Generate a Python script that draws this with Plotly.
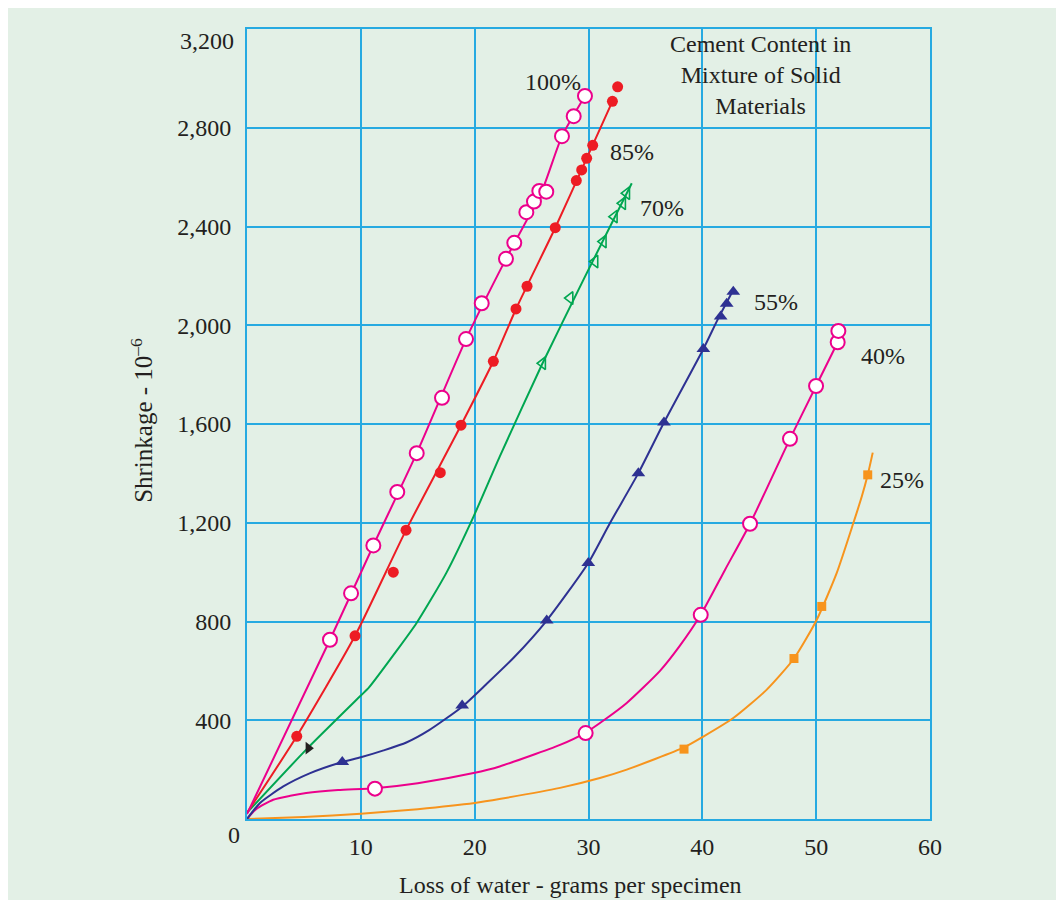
import plotly.graph_objects as go

# ---------------- data ----------------
# 100 % cement
c100_line_x = [0, 7.29, 11.1, 14.91, 19.24, 22.75, 25.9, 27.67, 29.69]
c100_line_y = [20, 726, 1108, 1482, 1944, 2269, 2543, 2766, 2929]
c100_pts_x = [7.29, 9.14, 11.10, 13.20, 14.91, 17.13, 19.24, 20.62, 22.75, 23.48, 24.54, 25.21, 25.68, 26.29, 27.67, 28.70, 29.69]
c100_pts_y = [726, 914, 1108, 1325, 1482, 1706, 1944, 2089, 2269, 2334, 2458, 2501, 2544, 2541, 2766, 2847, 2929]

# 85 % cement
c85_line_x = [0, 4.37, 9.49, 13.97, 18.8, 21.64, 23.63, 27.08, 29.84, 32.1]
c85_line_y = [25, 335, 742, 1170, 1595, 1854, 2066, 2395, 2676, 2907]
c85_pts_x = [4.37, 9.49, 12.85, 13.97, 16.98, 18.8, 21.64, 23.63, 24.6, 27.08, 28.93, 29.40, 29.84, 30.37, 32.1, 32.56]
c85_pts_y = [335, 742, 1000, 1170, 1403, 1595, 1854, 2066, 2158, 2395, 2586, 2629, 2676, 2729, 2907, 2966]

# 70 % cement
c70_line_x = [0, 5.2, 10, 10.7, 13.2, 14.9, 17.5, 19.9, 22.2, 25.9, 29.55, 33.8]
c70_line_y = [25, 281, 500, 532, 685, 794, 996, 1225, 1468, 1840, 2184, 2575]
c70_pts_x = [25.97, 28.38, 30.57, 31.3, 32.27, 33.0, 33.36]
c70_pts_y = [1846, 2110, 2258, 2339, 2440, 2494, 2535]
c70_black_x = [5.39]
c70_black_y = [287]

# 55 % cement
c55_line_x = [0, 1.14, 3.19, 5.5, 8.37, 10, 12, 14, 16, 18.9, 21, 23.4, 26.33, 29.98, 31.89, 34.38, 36.63, 40.09, 41.41, 42.72]
c55_line_y = [0, 65, 132, 185, 231, 250, 278, 310, 360, 455, 545, 652, 804, 1037, 1199, 1401, 1606, 1904, 2029, 2143]
c55_pts_x = [8.37, 18.9, 26.33, 29.98, 34.38, 36.63, 40.09, 41.61, 42.14, 42.72]
c55_pts_y = [231, 460, 804, 1037, 1401, 1606, 1904, 2035, 2087, 2136]

# 40 % cement
c40_line_x = [0, 0.8, 2.3, 3.8, 5.2, 8, 11.24, 15, 19.9, 22.2, 27.5, 29.75, 31.5, 33.36, 36.28, 38, 39.86, 42, 44.19, 47.7, 49.99, 51.89]
c40_line_y = [0, 40, 78, 94, 105, 117, 125, 145, 186, 213, 300, 350, 405, 470, 600, 700, 827, 1010, 1196, 1540, 1754, 1931]
c40_pts_x = [11.24, 29.75, 39.86, 44.19, 47.7, 49.99, 51.89, 51.95]
c40_pts_y = [123, 348, 827, 1196, 1540, 1754, 1931, 1977]

# 25 % cement
c25_line_x = [0, 5, 10, 15, 20, 22.3, 27.5, 31, 33.36, 38.39, 40.09, 42.72, 45.66, 48.05, 50.05, 51.8, 53.26, 54.0, 54.53, 54.97]
c25_line_y = [0, 8, 21, 40, 65, 82, 126, 166, 200, 290, 334, 409, 524, 650, 807, 996, 1198, 1305, 1394, 1484]
c25_pts_x = [38.39, 48.05, 50.49, 54.53]
c25_pts_y = [283, 650, 861, 1394]

series_labels = ["100%", "85%", "70%", "55%", "40%", "25%"]
label_x = [26.88, 33.82, 36.46, 46.47, 55.87, 57.54]
label_y = [2986, 2702, 2475, 2095, 1876, 1374]

x_ticks = [10, 20, 30, 40, 50, 60]
y_ticks = [400, 800, 1200, 1600, 2000, 2400, 2800, 3200]
y_tick_text = ["400", "800", "1,200", "1,600", "2,000", "2,400", "2,800", ""]

# ---------------- styles ----------------
MAG = "#ec008c"
RED = "#ed1c24"
GRN = "#00a651"
BLU = "#2e3192"
ORG = "#f7941d"
GRID = "#27aae1"
BG = "#e3f0e6"
TXT = "#231f20"
FONT = "Liberation Serif, Times New Roman, serif"

fig = go.Figure()

def line(x, y, c):
    fig.add_trace(go.Scatter(x=x, y=y, mode="lines", line=dict(color=c, width=2, shape="spline", smoothing=0.6),
                             hoverinfo="skip", showlegend=False))

def pts(x, y, c, symbol, size, fill, lw):
    fig.add_trace(go.Scatter(x=x, y=y, mode="markers",
                             marker=dict(symbol=symbol, size=size, color=fill, line=dict(color=c, width=lw)),
                             hoverinfo="skip", showlegend=False))

line(c25_line_x, c25_line_y, ORG)
line(c40_line_x, c40_line_y, MAG)
line(c55_line_x, c55_line_y, BLU)
line(c70_line_x, c70_line_y, GRN)
line(c85_line_x, c85_line_y, RED)
line(c100_line_x, c100_line_y, MAG)

pts(c25_pts_x, c25_pts_y, ORG, "square", 9, ORG, 0)
pts(c40_pts_x, c40_pts_y, MAG, "circle", 14, "white", 2)
pts(c55_pts_x, c55_pts_y, BLU, "triangle-up", 12, BLU, 0)
pts(c70_pts_x, c70_pts_y, GRN, "triangle-left", 11, "rgba(0,0,0,0)", 1.6)
pts(c70_black_x, c70_black_y, TXT, "triangle-right", 11, TXT, 0)
pts(c85_pts_x, c85_pts_y, RED, "circle", 11, RED, 0)
pts(c100_pts_x, c100_pts_y, MAG, "circle", 14, "white", 2)

annotations = []
for t, x, y in zip(series_labels, label_x, label_y):
    annotations.append(dict(x=x, y=y, xref="x", yref="y", text=t, showarrow=False,
                            font=dict(family=FONT, size=24, color=TXT)))
annotations.append(dict(x=45.07, y=3014, xref="x", yref="y", showarrow=False,
                        text="Cement Content in<br>Mixture of Solid<br>Materials",
                        font=dict(family=FONT, size=24, color=TXT), align="center"))
annotations.append(dict(x=0, y=0, xref="x", yref="y", text="0", showarrow=False,
                        xanchor="right", yanchor="top", xshift=-5, yshift=-1,
                        font=dict(family=FONT, size=24, color=TXT)))
annotations.append(dict(x=0, y=3200, xref="x", yref="y", text="3,200", showarrow=False,
                        xanchor="right", yanchor="top", xshift=-11, yshift=3,
                        font=dict(family=FONT, size=24, color=TXT)))
annotations.append(dict(x=0.473, y=-0.083, xref="paper", yref="paper", showarrow=False,
                        xanchor="center", yanchor="middle",
                        text="Loss of water - grams per specimen",
                        font=dict(family=FONT, size=24, color=TXT)))
annotations.append(dict(x=-0.154, y=0.505, xref="paper", yref="paper", showarrow=False,
                        xanchor="center", yanchor="middle",
                        text="Shrinkage - 10<sup>\u20136</sup>", textangle=-90,
                        font=dict(family=FONT, size=25, color=TXT)))

fig.update_layout(
    width=1048, height=892,
    margin=dict(l=239, r=126, t=21, b=81),
    paper_bgcolor=BG,
    plot_bgcolor=BG,
    showlegend=False,
    annotations=annotations,
)
fig.update_xaxes(range=[0, 60], tickvals=x_ticks, ticktext=[str(v) for v in x_ticks],
                 showgrid=True, gridcolor=GRID, gridwidth=2, zeroline=False,
                 showline=True, linecolor=GRID, linewidth=2, mirror=True, ticks="",
                 ticklabelstandoff=5,
                 tickfont=dict(family=FONT, size=24, color=TXT))
fig.update_yaxes(range=[0, 3200], tickvals=y_ticks, ticktext=y_tick_text,
                 showgrid=True, gridcolor=GRID, gridwidth=2, zeroline=False,
                 showline=True, linecolor=GRID, linewidth=2, mirror=True, ticks="",
                 ticklabelstandoff=9,
                 tickfont=dict(family=FONT, size=24, color=TXT))

fig.write_html("out.html")
